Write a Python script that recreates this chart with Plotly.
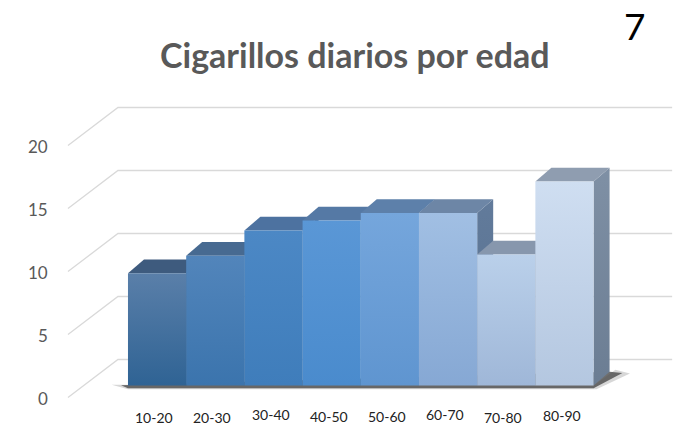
import plotly.graph_objects as go

# --- data -----------------------------------------------------------------
edades = ["10-20", "20-30", "30-40", "40-50", "50-60", "60-70", "70-80", "80-90"]
cigarillos = [8.9, 10.3, 12.3, 13.1, 13.7, 13.7, 10.4, 16.2]
valores_eje = [0, 5, 10, 15, 20]

# --- style ----------------------------------------------------------------
frente_arriba = ["#5a7fa9", "#5285bb", "#4c88c5", "#5a97d6", "#75a6dc", "#a1bfe3", "#bad0ea", "#cfdef1"]
frente_abajo = ["#2f6394", "#3b74ad", "#3f7dbb", "#4a8bcd", "#5f95d0", "#86a8d4", "#9fb7d8", "#b4c7e0"]
techo = ["#3e5b7e", "#476a91", "#4d72a0", "#5579a5", "#5d80aa", "#6d86a6", "#8797ad", "#8f9db0"]
lado_arriba = ["#34506f", "#3d5d82", "#44678f", "#4d6f98", "#56779e", "#627b9b", "#7a8aa0", "#7f90a5"]
lado_abajo = ["#2a4562", "#325274", "#395b80", "#41638a", "#4a6b90", "#566f8e", "#6c7c92", "#6b7d93"]
# slight vertical wobble of the perspective category labels (value units)
ajuste_etiqueta = [0.0, -0.05, 0.2, 0.05, 0.05, 0.22, -0.05, 0.1]

GRID = "#d9d9d9"
TXT = "#595959"

# oblique depth of a bar (category units, value units)
DX, DY = 0.275, 1.09
# floor/wall geometry relative to the bar front plane
WALL_X0 = -1.531          # left wall, front edge
WALL_DX, WALL_DY = 0.859, 3.016
FRONT_DY = -0.953         # floor front edge below the bar plane
BACK_DY = FRONT_DY + WALL_DY
GRID_END = 8.85

fig = go.Figure()

# gridlines: side wall diagonals + back wall horizontals
for v in valores_eje:
    fig.add_trace(go.Scatter(
        x=[WALL_X0, WALL_X0 + WALL_DX, GRID_END],
        y=[v + FRONT_DY, v + BACK_DY, v + BACK_DY],
        mode="lines", line=dict(color=GRID, width=1.3),
        hoverinfo="skip", showlegend=False))

# floor shadow under the bars
n = len(cigarillos)
xr = n - 0.5
fig.add_trace(go.Scatter(
    x=[-0.78, -0.5, xr + 0.05, xr + DX + 0.35, xr + DX + 0.1, xr],
    y=[0.05, -0.3, -0.3, 0.95, 1.25, 0.0],
    fill="toself", fillcolor="rgba(140,140,140,0.35)",
    mode="lines", line=dict(width=0), hoverinfo="skip", showlegend=False))
fig.add_trace(go.Scatter(
    x=[-0.62, -0.5, xr, xr + DX + 0.22, xr + DX],
    y=[0.02, -0.22, -0.22, 1.0, DY],
    fill="toself", fillcolor="rgba(75,75,75,0.8)",
    mode="lines", line=dict(width=0), hoverinfo="skip", showlegend=False))

# bars, painted left to right: side, top, front
for i, (edad, v) in enumerate(zip(edades, cigarillos)):
    x0, x1 = i - 0.5, i + 0.5
    fig.add_trace(go.Scatter(
        x=[x1, x1 + DX, x1 + DX, x1, x1],
        y=[0, DY, v + DY, v, 0],
        fill="toself", mode="lines", line=dict(width=0),
        fillgradient=dict(type="vertical",
                          colorscale=[[0, lado_abajo[i]], [1, lado_arriba[i]]]),
        hoverinfo="skip", showlegend=False))
    fig.add_trace(go.Scatter(
        x=[x0, x1, x1 + DX, x0 + DX, x0],
        y=[v, v, v + DY, v + DY, v],
        fill="toself", mode="lines", line=dict(width=0),
        fillcolor=techo[i], hoverinfo="skip", showlegend=False))
    fig.add_trace(go.Scatter(
        x=[x0, x1, x1, x0, x0],
        y=[0, 0, v, v, 0],
        fill="toself", mode="lines", line=dict(width=0),
        fillgradient=dict(type="vertical",
                          colorscale=[[0, frente_abajo[i]], [1, frente_arriba[i]]]),
        name=edad, hoveron="fills",
        hovertemplate=f"{edad}: {v}<extra></extra>", showlegend=False))

annotations = []
# value axis labels at the floor front edge
for v in valores_eje:
    annotations.append(dict(
        x=-1.84, y=v - 1.05, xref="x", yref="y", text=str(v),
        xanchor="right", yanchor="middle", showarrow=False,
        font=dict(family="Lato", size=17, color=TXT)))
# category labels
for i, edad in enumerate(edades):
    annotations.append(dict(
        x=i - 0.05, y=-2.5 + ajuste_etiqueta[i], xref="x", yref="y", text=edad,
        xanchor="center", yanchor="middle", showarrow=False,
        font=dict(family="Lato", size=14, color="#222222")))
# title and page number
annotations.append(dict(
    x=355 / 680, y=1 - 54 / 425, xref="paper", yref="paper",
    text="<b>Cigarillos diarios por edad</b>", showarrow=False,
    xanchor="center", yanchor="middle",
    font=dict(family="Lato", size=34, color=TXT)))
annotations.append(dict(
    x=634.5 / 680, y=1 - 26 / 425, xref="paper", yref="paper",
    text="7", showarrow=False, xanchor="center", yanchor="middle",
    font=dict(family="Lato", size=37, color="#000000")))

fig.update_layout(
    width=680, height=425,
    margin=dict(l=0, r=0, t=0, b=0),
    paper_bgcolor="white", plot_bgcolor="white",
    xaxis=dict(range=[-2.699, 8.985], visible=False, fixedrange=True),
    yaxis=dict(range=[-3.135, 30.595], visible=False, fixedrange=True),
    annotations=annotations,
    showlegend=False,
)

fig.write_html("out.html")
